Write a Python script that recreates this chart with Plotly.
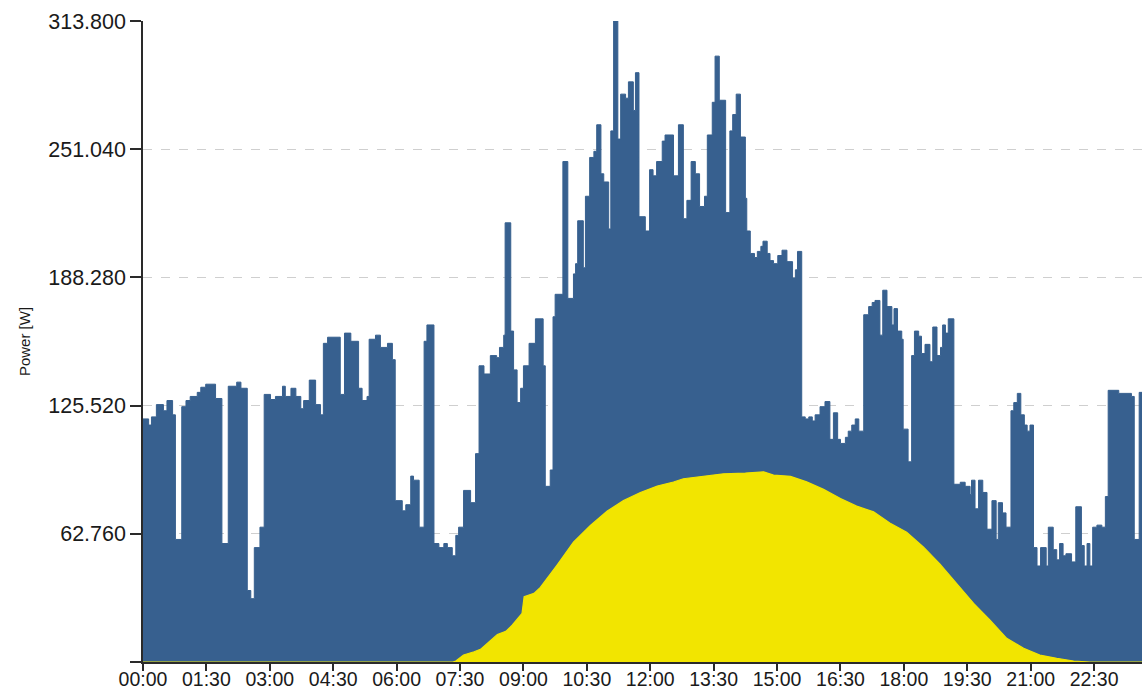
import plotly.graph_objects as go

DAY = "2024-01-01 "

# Consumption power (step data), times HH:MM and watts
load_times = ["00:00","00:08","00:12","00:19","00:29","00:34","00:42","00:46","00:55","01:01","01:07","01:17","01:22","01:29","01:43","01:52","02:01","02:13","02:19","02:28","02:33","02:38","02:46","02:52","03:01","03:08","03:18","03:22","03:30","03:37","03:44","03:48","03:56","04:05","04:12","04:16","04:22","04:40","04:46","04:55","05:06","05:11","05:18","05:21","05:30","05:37","05:47","05:54","05:58","06:08","06:13","06:20","06:24","06:32","06:39","06:43","06:53","07:00","07:07","07:12","07:19","07:24","07:28","07:35","07:45","07:52","07:57","08:04","08:13","08:22","08:26","08:32","08:34","08:42","08:46","08:51","08:56","09:00","09:08","09:17","09:28","09:31","09:38","09:42","09:45","09:56","10:03","10:11","10:14","10:17","10:25","10:28","10:34","10:40","10:44","10:50","10:54","11:01","11:04","11:08","11:14","11:18","11:25","11:29","11:36","11:39","11:44","11:53","11:59","12:04","12:09","12:17","12:21","12:33","12:40","12:47","12:52","12:58","13:04","13:10","13:17","13:21","13:28","13:32","13:38","13:47","13:53","13:57","14:02","14:08","14:15","14:17","14:22","14:28","14:32","14:37","14:40","14:46","14:50","14:55","15:01","15:07","15:14","15:22","15:26","15:29","15:35","15:40","15:45","15:50","15:54","16:01","16:08","16:15","16:20","16:26","16:30","16:37","16:41","16:46","16:51","16:56","17:03","17:10","17:15","17:19","17:26","17:30","17:36","17:43","17:46","17:51","17:57","17:59","18:06","18:11","18:15","18:21","18:25","18:30","18:37","18:41","18:47","18:52","18:55","18:59","19:03","19:11","19:20","19:27","19:34","19:36","19:41","19:46","19:52","19:58","20:05","20:11","20:14","20:20","20:25","20:32","20:36","20:41","20:46","20:51","20:55","20:59","21:04","21:09","21:14","21:22","21:25","21:32","21:37","21:41","21:46","21:50","21:58","22:04","22:12","22:16","22:20","22:24","22:28","22:34","22:41","22:46","22:50","23:05","23:23","23:27","23:34","23:38"]
load_watts = [119,116,120,126,123,128,121,60,125,128,130,132,134.5,136,129,58,135,137,134,35,31,56,66,131,128.5,130,135,130,134,130,124,128,138,126,121,156,159,131,161,157,134,128,130,158,160,154,156,148,79,74,77,91,89,66,157,165,58,56,58,56,52,62,66,84,78,102,145,141,150,149,154,160,215,162,143,127,134,145,156,168,145,86,94,169,180,245,178,190,195,216,193,228,247,250,263,239,235,212,260,313.8,256,278,276,284,270,288.5,218,211,241,238,245,255,258,238,263,217,226,245,239,223,228,258,274,296.6,275,220,260,268,278,257,227,211,200,198,201,203.5,206,200,196.5,195,199,201.6,196,188,192,201,120,119,120,118,121,125,127.5,109,122,109,107,110,113,116,119,113,170,174,176,177,160,182,174,165,173,162,158,114,98,150,162,159.5,151,155.5,147,164,150,154,165,161,168,87,88,86,82,89,75,89,83,65,79,60,78,73,66,123,127,131.5,121,116,113,116,56,47,56,47,66,55,50,58,52,53,49,76,57,47,58,47,66,67,66,81,133,131.5,130,60,132,132]

# PV generation (smooth curve)
pv_times = ["00:00","07:20","07:24","07:35","07:50","07:59","08:09","08:23","08:35","08:44","08:58","09:01","09:15","09:24","09:48","10:11","10:35","10:59","11:22","11:46","12:10","12:33","12:47","13:20","13:44","14:15","14:41","14:55","15:19","15:42","16:06","16:30","16:53","17:17","17:40","18:04","18:28","18:51","19:15","19:39","20:02","20:26","20:50","21:13","21:37","22:01","22:24","23:38"]
pv_watts = [0,0,0.5,3.4,5,6.2,9.2,13.5,15,18,23.8,32,33.6,36.5,47.6,58.7,66.8,73.9,79,83,86.1,88.1,89.7,91.1,92.1,92.5,93.1,91.5,90.9,88.2,84.5,80,76.3,73.5,68,63.5,56.2,48,38.5,28.7,20.6,11.6,6.7,3.4,1.8,0.5,0,0]

y_tick_vals = [0, 62.76, 125.52, 188.28, 251.04, 313.8]
y_tick_text = ["", "62.760", "125.520", "188.280", "251.040", "313.800"]
x_tick_text = ["00:00","01:30","03:00","04:30","06:00","07:30","09:00","10:30","12:00","13:30","15:00","16:30","18:00","19:30","21:00","22:30"]

BLUE = "#37608f"
YELLOW = "#f2e500"

fig = go.Figure()
fig.add_trace(go.Scatter(
    x=[DAY + t for t in load_times], y=load_watts,
    mode="lines", line=dict(shape="hv", color=BLUE, width=1),
    fill="tozeroy", fillcolor=BLUE, showlegend=False, hoverinfo="skip"))
fig.add_trace(go.Scatter(
    x=[DAY + t for t in pv_times], y=pv_watts,
    mode="lines", line=dict(color=YELLOW, width=1.2),
    fill="tozeroy", fillcolor=YELLOW, showlegend=False, hoverinfo="skip"))

FONT = "Liberation Sans, Arial, sans-serif"
fig.update_layout(
    width=1142, height=690,
    margin=dict(l=143, r=0, t=21, b=28),
    paper_bgcolor="white", plot_bgcolor="white",
    font=dict(family=FONT, color="#1a1a1a"),
    xaxis=dict(
        type="date", automargin=False,
        range=[DAY + "00:00", DAY + "23:38"],
        tickvals=[DAY + t for t in x_tick_text], ticktext=x_tick_text,
        ticks="outside", ticklen=7, tickwidth=1.5, tickcolor="#2a2a2a",
        ticklabelstandoff=-8,
        showline=True, linecolor="#2a2a2a", linewidth=1.5,
        showgrid=False, zeroline=False,
        tickfont=dict(size=19.5, color="#1a1a1a"),
    ),
    yaxis=dict(
        range=[0, 313.8], automargin=False,
        tickmode="array", tickvals=y_tick_vals, ticktext=y_tick_text,
        ticks="outside", ticklen=11, tickwidth=1.5, tickcolor="#2a2a2a",
        showline=True, linecolor="#2a2a2a", linewidth=1.5,
        showgrid=True, gridcolor="#cfcfcf", griddash="dash", gridwidth=1,
        zeroline=False,
        tickfont=dict(size=21.5, color="#1a1a1a"),
        title=dict(text="Power [W]", font=dict(size=15, color="#1a1a1a"), standoff=14),
    ),
)

fig.write_html(
    "out.html",
    config={"responsive": False, "displayModeBar": False},
    post_script="document.body.style.margin='0';document.body.style.overflow='hidden';"
                "document.documentElement.style.overflow='hidden';",
)
